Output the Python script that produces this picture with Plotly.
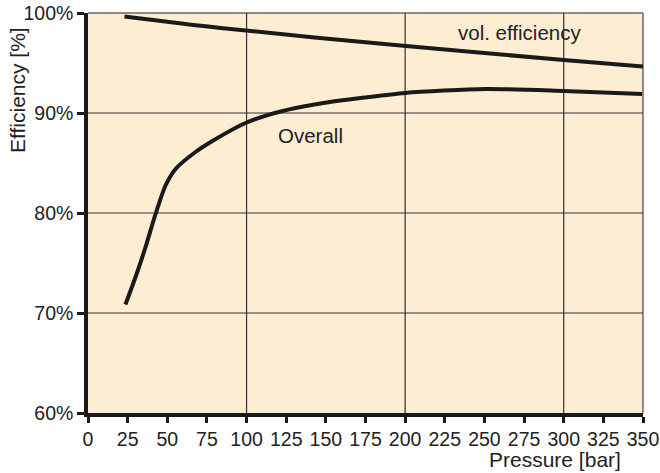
import plotly.graph_objects as go

# Data
pressure_vol = [23, 83.5, 197, 300, 350]
vol_efficiency = [99.65, 98.5, 96.75, 95.3, 94.65]

pressure_overall = [23.6, 30, 36.3, 42.6, 48.9, 55.2, 67.8, 79, 99.3, 121.4, 146.6,
                    175, 199.8, 250.6, 300, 349.4]
overall_efficiency = [70.85, 73.6, 76.6, 79.9, 82.75, 84.4, 86.1, 87.25, 89.0, 90.15, 90.95,
                      91.55, 92.0, 92.4, 92.2, 91.9]

x_ticks = list(range(0, 351, 25))
y_ticks = [60, 70, 80, 90, 100]
x_grid = [100, 200, 300]
y_grid = [70, 80, 90]

FONT = "Liberation Sans, Arial, Helvetica, sans-serif"
LINE = "#1a1a1a"
BG = "#fdedd2"

fig = go.Figure()
fig.add_trace(go.Scatter(x=pressure_vol, y=vol_efficiency, mode="lines",
                         line=dict(color=LINE, width=4, shape="spline", smoothing=0.8),
                         hoverinfo="skip", showlegend=False))
fig.add_trace(go.Scatter(x=pressure_overall, y=overall_efficiency, mode="lines",
                         line=dict(color=LINE, width=4, shape="spline", smoothing=0.7),
                         hoverinfo="skip", showlegend=False))

shapes = []
for gx in x_grid:
    shapes.append(dict(type="line", xref="x", yref="y", x0=gx, x1=gx, y0=60, y1=100,
                       line=dict(color="#333333", width=1.2), layer="below"))
for gy in y_grid:
    shapes.append(dict(type="line", xref="x", yref="y", x0=0, x1=350, y0=gy, y1=gy,
                       line=dict(color="#333333", width=1.2), layer="below"))
# top and right frame
shapes.append(dict(type="line", xref="paper", yref="paper", x0=0, x1=1, y0=1, y1=1,
                   line=dict(color="#666666", width=1.5), layer="below"))
shapes.append(dict(type="line", xref="paper", yref="paper", x0=1, x1=1, y0=0, y1=1,
                   line=dict(color="#666666", width=1.5), layer="below"))

annotations = [
    dict(text="vol. efficiency", x=272.4, y=98.1, xref="x", yref="y", showarrow=False,
         font=dict(family=FONT, size=20.5, color="#222222"), xanchor="center", yanchor="middle"),
    dict(text="Overall", x=140.2, y=87.8, xref="x", yref="y", showarrow=False,
         font=dict(family=FONT, size=20.5, color="#222222"), xanchor="center", yanchor="middle"),
    dict(text="Efficiency [%]", x=-0.128, y=0.8075, xref="paper", yref="paper", showarrow=False,
         textangle=-90, font=dict(family=FONT, size=21, color="#222222"),
         xanchor="center", yanchor="middle"),
    dict(text="Pressure [bar]", x=0.964, y=-0.115, xref="paper", yref="paper", showarrow=False,
         font=dict(family=FONT, size=21, color="#222222"), xanchor="right", yanchor="middle"),
]

fig.update_layout(
    width=660, height=473,
    margin=dict(l=88, r=17, t=13, b=60, autoexpand=False),
    paper_bgcolor="white",
    plot_bgcolor=BG,
    shapes=shapes,
    annotations=annotations,
    font=dict(family=FONT, color="#222222"),
)
fig.update_xaxes(range=[0, 350], tickvals=x_ticks, ticktext=[str(v) for v in x_ticks],
                 showgrid=False, zeroline=False, showline=True, linecolor=LINE, linewidth=3.5,
                 ticks="outside", ticklen=6, tickwidth=3, tickcolor=LINE, automargin=False,
                 tickfont=dict(family=FONT, size=19.5, color="#222222"))
fig.update_yaxes(range=[60, 100], tickvals=y_ticks, ticktext=[f"{v}%" for v in y_ticks],
                 showgrid=False, zeroline=False, showline=True, linecolor=LINE, linewidth=3.5,
                 ticks="outside", ticklen=7, tickwidth=3, tickcolor=LINE, automargin=False,
                 tickfont=dict(family=FONT, size=19.5, color="#222222"))

fig.write_html("out.html", config={"displayModeBar": False},
               post_script="document.body.style.margin='0';document.body.style.padding='0';")
